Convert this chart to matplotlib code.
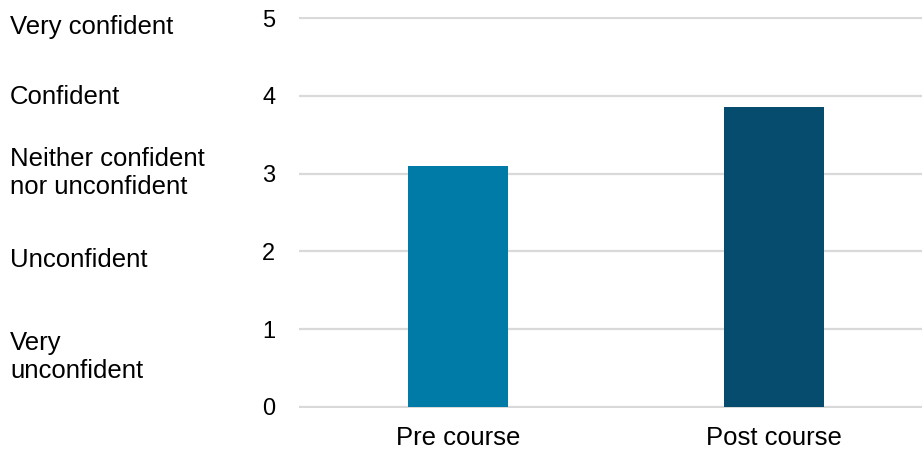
import matplotlib.pyplot as plt

# Datos
categorias = ["Pre course", "Post course"]
valores = [3.10, 3.86]
colores = ["#007BA8", "#064C6E"]
escala = ["Very confident", "Confident", "Neither confident\nnor unconfident",
          "Unconfident", "Very\nunconfident"]

# Línea base (píxeles desde arriba) de la última línea de cada etiqueta
base_px = [34, 104, 194, 267, 378]


def main():
    plt.rcParams["font.family"] = ["Liberation Sans", "DejaVu Sans"]
    W, H = 922, 454
    fig = plt.figure(figsize=(W / 100, H / 100), dpi=100)

    unidad = 77.68
    y0 = 406.7 + 0.02 * unidad
    y5 = 18.3 - 0.02 * unidad
    ax = fig.add_axes([299 / W, 1 - y0 / H, 1 - 299 / W, (y0 - y5) / H])

    x = range(len(categorias))
    ax.bar(x, valores, width=0.316, color=colores, zorder=3)

    ax.set_xlim(-0.503, 1.468)
    ax.set_ylim(-0.02, 5.02)
    ax.set_yticks(range(6))
    ax.set_xticks(list(x))
    ax.set_xticklabels(categorias)
    ax.grid(axis="y", color="#D9D9D9", linewidth=1.6, zorder=0)
    ax.tick_params(axis="y", length=0, pad=17, labelsize=17)
    ax.tick_params(axis="x", length=0, pad=13, labelsize=18.5)
    for s in ax.spines.values():
        s.set_visible(False)

    for texto, b in zip(escala, base_px):
        fig.text(10 / W, 1 - b / H, texto, fontsize=18.5, va="baseline",
                 ha="left", linespacing=1.2)

    fig.savefig("out.png", dpi=100)


if __name__ == "__main__":
    main()
